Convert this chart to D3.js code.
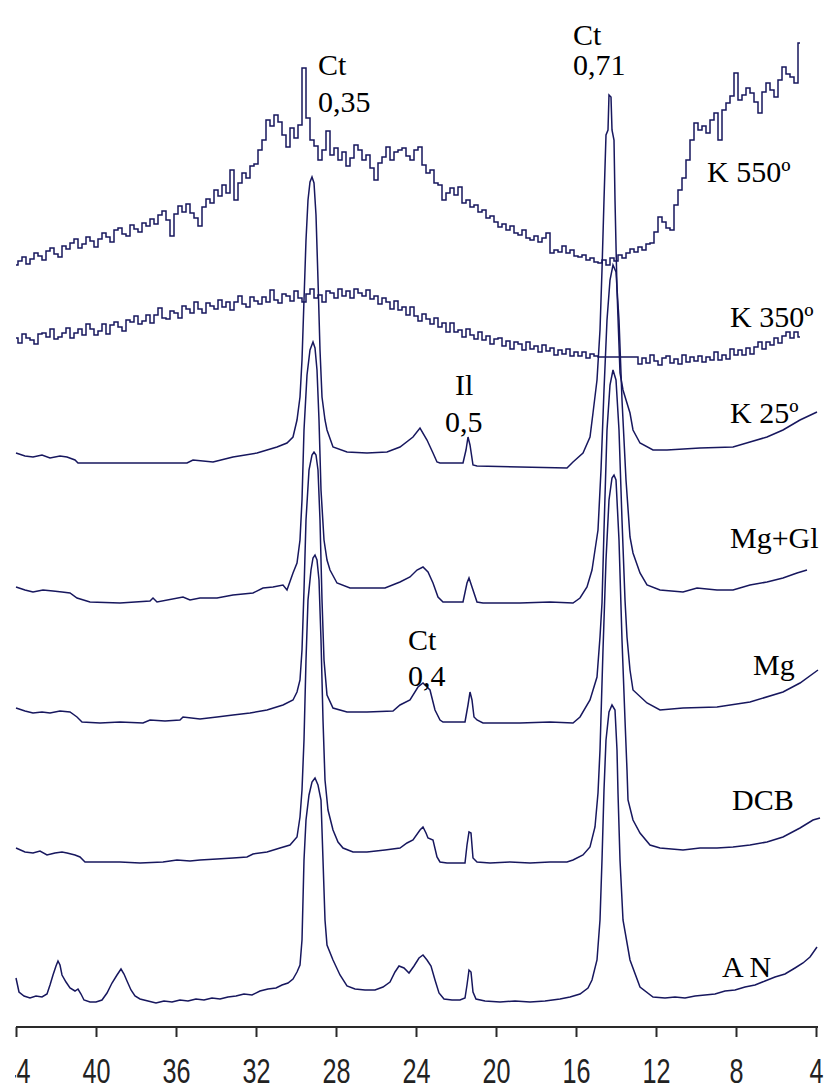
<!DOCTYPE html>
<html>
<head>
<meta charset="utf-8">
<script src="https://cdn.jsdelivr.net/npm/d3@7"></script>
<style>
  body { margin: 0; background: #fff; }
  svg { display: block; }
</style>
</head>
<body>
<svg id="chart" width="831" height="1089"></svg>
<script>
// X-ray diffraction patterns of the clay fraction (2θ, reversed axis),
// stacked with vertical offsets; intensities in arbitrary stacked units.

const twoThetaTicks = [44, 40, 36, 32, 28, 24, 20, 16, 12, 8, 4];

// Heated samples: recorded on a regular 2θ grid starting at 44° in 0.2° steps
const gridStart = 44;
const gridStep = 0.2;

const k550 = [
  762,766,770,763,768,774,771,767,776,779,
  773,770,781,778,784,788,779,783,790,786,
  780,788,794,790,785,797,799,793,791,802,
  798,795,804,801,808,803,812,816,807,791,
  813,821,815,823,814,809,801,820,828,824,
  837,831,842,834,857,827,844,854,849,861,
  863,877,887,907,901,912,905,892,880,899,
  889,902,959,909,887,881,867,877,896,872,
  879,867,875,861,869,882,877,867,872,859,
  847,864,870,880,867,875,877,879,871,867,
  877,880,862,854,857,844,842,827,834,839,
  832,840,824,827,820,822,815,817,809,811,
  805,800,803,797,801,794,792,797,789,787,
  791,785,789,794,774,777,775,781,774,777,
  771,770,772,767,769,765,764,767,762,769,
  766,772,769,774,778,775,780,777,783,784,
  795,810,805,799,797,822,837,849,867,887,
  904,897,901,894,907,914,887,917,924,931,
  954,927,932,939,934,925,914,935,944,937,
  930,947,960,953,950,944,984
];

const k350 = [
  689,684,693,689,687,683,693,694,690,698,
  688,690,694,699,689,694,698,692,703,698,
  692,696,703,693,702,705,700,696,707,705,
  711,703,706,712,704,712,719,709,708,716,
  714,709,721,718,714,725,718,714,724,721,
  718,727,720,725,717,725,731,723,720,730,
  726,723,730,725,737,727,724,733,731,726,
  736,729,725,733,738,729,732,725,736,734,
  729,738,731,736,729,738,734,731,737,728,
  731,723,729,725,718,726,717,720,712,720,
  711,706,713,708,703,709,700,704,695,704,
  695,697,690,698,692,688,695,687,691,683,
  688,689,681,686,678,685,683,677,685,678,
  681,675,682,676,679,672,677,673,678,671,
  675,671,675,669,673,671,670,670,670,670,
  670,670,670,670,670,670,663,669,664,672,
  666,662,669,671,664,668,663,672,665,670,
  666,671,665,670,667,675,667,672,668,678,
  672,677,672,679,673,680,685,678,685,682,
  689,684,691,695,689,695,690
];

// [2θ, intensity] pairs
const k25 = [
  [44.0,574],[43.55,571],[43.15,570],[42.7,572],[42.3,569],[41.8,571],[41.45,570],
  [41.05,567],[40.9,564],[38.8,564],[37.3,564],[35.45,564],[35.15,567],[34.15,565],
  [33.15,570],[31.95,574],[31.45,577],[30.95,580],[30.45,584],[30.15,590],[29.95,607],
  [29.8,630],[29.7,667],[29.6,727],[29.5,787],[29.4,827],[29.3,845],[29.2,850],
  [29.1,844],[29.0,812],[28.9,747],[28.8,677],[28.7,630],[28.55,607],[28.45,597],
  [28.15,580],[27.45,575],[26.45,574],[25.45,575],[24.8,580],[24.15,590],[23.8,599],
  [23.45,587],[23.15,574],[22.95,565],[22.8,564],[21.65,564],[21.5,577],[21.4,590],
  [21.3,582],[21.15,562],[20.95,561],[18.8,560],[16.45,559],[16.15,565],[15.65,574],
  [15.3,590],[15.15,614],[14.95,647],[14.8,697],[14.7,757],[14.6,827],[14.5,892],
  [14.4,897],[14.35,932],[14.25,930],[14.2,897],[14.1,887],[14.05,827],[13.95,737],
  [13.8,654],[13.65,637],[13.3,614],[13.15,597],[12.8,584],[12.15,577],[11.45,577],
  [9.8,579],[8.15,580],[7.3,585],[6.45,590],[5.65,597],[4.8,607],[3.95,615]
];

const mgGl = [
  [44.0,440],[43.55,437],[43.15,435],[42.65,437],[42.15,436],[41.7,435],[41.3,434],
  [40.95,429],[40.3,425],[38.8,424],[37.3,426],[37.15,429],[36.95,425],[35.65,430],
  [35.3,427],[34.8,429],[33.95,429],[33.15,432],[32.15,434],[31.65,439],[31.15,440],
  [30.65,442],[30.45,437],[30.15,454],[29.95,464],[29.8,487],[29.7,527],[29.6,597],
  [29.45,652],[29.3,677],[29.15,685],[29.05,679],[28.95,657],[28.85,607],[28.75,537],
  [28.6,487],[28.45,467],[28.3,457],[27.95,444],[27.3,439],[26.45,439],[25.55,439],
  [24.8,445],[24.3,450],[23.95,457],[23.65,460],[23.4,455],[23.15,444],[22.9,430],
  [22.65,425],[21.65,425],[21.45,444],[21.35,449],[21.2,440],[20.95,425],[20.65,424],
  [18.8,424],[17.3,425],[16.15,424],[15.8,429],[15.45,440],[15.2,457],[15.05,477],
  [14.9,497],[14.75,557],[14.6,637],[14.45,707],[14.3,747],[14.15,762],[14.0,755],
  [13.85,707],[13.7,627],[13.5,547],[13.3,490],[13.15,474],[12.8,454],[12.45,442],
  [11.8,437],[10.65,435],[9.95,439],[8.95,437],[8.15,437],[7.3,442],[6.45,445],
  [5.65,449],[4.95,454],[4.45,457]
];

const mg = [
  [44.0,319],[43.55,316],[43.15,314],[42.7,315],[42.3,314],[41.8,316],[41.3,315],
  [40.95,310],[40.7,305],[39.8,304],[38.8,305],[37.65,304],[37.3,307],[36.55,306],
  [35.8,307],[35.65,310],[34.8,308],[33.95,310],[33.15,312],[32.3,314],[31.45,317],
  [30.65,322],[30.15,327],[29.95,335],[29.8,347],[29.7,377],[29.6,437],[29.5,507],
  [29.35,557],[29.2,572],[29.1,575],[29.0,572],[28.9,557],[28.8,507],[28.7,427],
  [28.6,367],[28.45,332],[28.15,319],[27.45,315],[26.45,315],[25.15,316],[24.8,322],
  [24.3,327],[23.9,340],[23.65,344],[23.3,337],[23.05,317],[22.8,307],[22.65,305],
  [21.55,305],[21.4,322],[21.3,335],[21.2,327],[21.1,310],[20.95,307],[20.65,304],
  [18.8,304],[17.3,305],[16.15,304],[15.8,310],[15.3,327],[14.95,350],[14.8,390],
  [14.7,424],[14.6,497],[14.45,597],[14.3,642],[14.15,657],[14.0,647],[13.85,597],
  [13.7,507],[13.55,427],[13.45,390],[13.3,357],[13.15,337],[12.45,324],[11.8,317],
  [10.65,319],[8.95,320],[7.3,325],[5.65,335],[4.8,344],[3.9,357]
];

const dcb = [
  [44.0,179],[43.55,175],[43.15,174],[42.8,176],[42.45,172],[42.05,174],[41.7,175],
  [41.45,174],[41.05,172],[40.8,170],[40.55,165],[39.8,165],[38.8,165],[37.8,164],
  [36.65,165],[35.95,167],[35.3,166],[34.8,167],[33.95,168],[33.15,169],[32.45,170],
  [32.15,173],[31.45,175],[30.8,179],[30.3,182],[29.95,190],[29.8,210],[29.7,237],
  [29.6,287],[29.5,367],[29.4,427],[29.25,457],[29.15,469],[29.05,472],[28.95,467],
  [28.85,447],[28.75,387],[28.65,307],[28.55,247],[28.4,217],[28.15,197],[27.9,185],
  [27.65,179],[27.15,175],[26.45,175],[25.55,177],[24.8,179],[24.45,184],[24.15,187],
  [23.8,197],[23.65,200],[23.5,194],[23.4,189],[23.15,187],[22.95,170],[22.8,165],
  [22.45,164],[21.55,164],[21.45,182],[21.35,195],[21.25,194],[21.15,169],[20.95,165],
  [20.3,164],[19.3,165],[18.3,164],[17.3,165],[16.45,165],[16.15,167],[15.65,172],
  [15.3,180],[15.05,200],[14.9,234],[14.8,277],[14.65,377],[14.5,467],[14.35,527],
  [14.2,549],[14.1,552],[14.0,547],[13.85,487],[13.7,387],[13.55,307],[13.45,257],
  [13.4,227],[13.15,207],[12.8,194],[12.3,182],[11.8,179],[10.65,177],[9.8,179],
  [8.95,179],[8.15,180],[7.3,182],[6.45,185],[5.65,190],[4.8,199],[4.15,207],[3.8,209]
];

const an = [
  [44.0,49],[43.85,35],[43.6,31],[43.3,29],[43.0,31],[42.7,30],[42.45,33],[42.3,42],
  [42.15,52],[42.0,61],[41.9,66],[41.8,62],[41.7,52],[41.5,45],[41.3,39],[41.05,36],
  [40.9,38],[40.75,33],[40.6,27],[40.3,25],[40.0,25],[39.7,27],[39.45,34],[39.2,44],
  [38.95,52],[38.75,58],[38.6,53],[38.45,46],[38.25,37],[38.05,31],[37.8,28],[37.4,26],
  [37.0,24],[36.6,26],[36.2,25],[35.8,27],[35.4,26],[35.0,28],[34.6,27],[34.2,29],
  [33.8,28],[33.4,30],[33.0,31],[32.6,33],[32.2,32],[31.8,36],[31.4,38],[31.0,39],
  [30.7,42],[30.4,44],[30.15,48],[29.95,55],[29.8,62],[29.7,87],[29.6,167],[29.5,207],
  [29.35,232],[29.2,245],[29.05,249],[28.9,242],[28.75,227],[28.65,167],[28.55,107],
  [28.45,82],[28.15,67],[27.8,52],[27.45,41],[27.05,38],[26.55,37],[26.05,37],
  [25.65,40],[25.3,45],[25.05,55],[24.85,61],[24.6,59],[24.35,54],[24.1,61],[23.85,69],
  [23.65,72],[23.45,67],[23.25,61],[23.05,47],[22.85,34],[22.6,28],[22.2,27],[21.8,27],
  [21.55,29],[21.45,42],[21.35,57],[21.25,55],[21.15,35],[21.0,28],[20.55,26],[19.8,25],
  [19.05,26],[18.3,25],[17.55,26],[16.8,28],[16.3,30],[15.8,33],[15.4,39],[15.2,47],
  [14.95,67],[14.8,107],[14.7,167],[14.6,237],[14.5,287],[14.35,315],[14.2,322],
  [14.05,317],[13.95,277],[13.9,234],[13.8,167],[13.65,107],[13.3,67],[12.8,40],
  [12.15,30],[11.55,29],[11.05,30],[10.55,29],[10.05,31],[9.55,32],[9.05,33],[8.55,36],
  [8.05,37],[7.55,40],[7.05,42],[6.55,46],[6.05,50],[5.55,53],[5.05,59],[4.65,64],
  [4.3,70],[3.95,80]
];

const sampleNames = ["K 550º", "K 350º", "K 25º", "Mg+Gl", "Mg", "DCB", "A N"];
const peakNotes = [["Ct", "0,35"], ["Ct", "0,71"], ["Il", "0,5"], ["Ct", "0,4"]];

// ---- drawing ----
const width = 831, height = 1089;
const ink = "#17175e";

const x = d3.scaleLinear().domain([44, 4]).range([16, 816]);
const y = d3.scaleLinear().domain([0, 1000]).range([1027, 27]);

const svg = d3.select("#chart");
svg.append("rect").attr("width", width).attr("height", height).attr("fill", "#fff");

svg.append("defs").append("clipPath").attr("id", "frame")
  .append("rect").attr("x", 15).attr("y", 0).attr("width", width - 15).attr("height", height);

const g = svg.append("g").attr("clip-path", "url(#frame)");

const onGrid = values => values.map((v, i) => [gridStart - i * gridStep, v]);

const patterns = [
  { pts: onGrid(k550), curve: d3.curveStep },
  { pts: onGrid(k350), curve: d3.curveStep },
  { pts: k25, curve: d3.curveLinear },
  { pts: mgGl, curve: d3.curveLinear },
  { pts: mg, curve: d3.curveLinear },
  { pts: dcb, curve: d3.curveLinear },
  { pts: an, curve: d3.curveLinear }
];

patterns.forEach(p => {
  const line = d3.line().x(d => x(d[0])).y(d => y(d[1])).curve(p.curve);
  g.append("path")
    .attr("d", line(p.pts))
    .attr("fill", "none")
    .attr("stroke", ink)
    .attr("stroke-width", 1.5)
    .attr("stroke-linejoin", "miter");
});

// 2θ axis
const axis = d3.axisBottom(x)
  .tickValues(twoThetaTicks)
  .tickFormat(d3.format("d"))
  .tickSize(10)
  .tickSizeOuter(0);

const ax = g.append("g")
  .attr("transform", `translate(0,${y(0)})`)
  .call(axis);

ax.select(".domain").attr("stroke", "#2a2a2a").attr("stroke-width", 2.2)
  .attr("d", `M${x(44)},0H${x(4) + 2}`);
ax.selectAll(".tick line").attr("stroke", "#2a2a2a").attr("stroke-width", 2);
ax.selectAll(".tick text")
  .attr("y", null).attr("dy", null)
  .attr("transform", "translate(0,56) scale(0.72,1)")
  .attr("fill", "#222")
  .attr("font-family", "'Liberation Sans', Arial, sans-serif")
  .attr("font-size", 35);

// sample names beside each pattern
const serif = "'Liberation Serif', 'Times New Roman', serif";
const namePos = [[707, 182], [730, 327], [730, 423], [730, 548], [753, 675], [732, 810], [722, 977]];
g.selectAll("text.sample")
  .data(sampleNames)
  .join("text")
  .attr("class", "sample")
  .attr("x", (d, i) => namePos[i][0])
  .attr("y", (d, i) => namePos[i][1])
  .attr("font-family", serif)
  .attr("font-size", 30)
  .attr("fill", "#000")
  .text(d => d);

// mineral / d-spacing (nm) notes over the reflections
const notePos = [
  [[318, 75], [318, 112]],
  [[573, 45], [573, 75]],
  [[455, 395], [445, 432]],
  [[408, 650], [408, 686]]
];
peakNotes.forEach((lines, i) => {
  lines.forEach((t, j) => {
    g.append("text")
      .attr("x", notePos[i][j][0])
      .attr("y", notePos[i][j][1])
      .attr("font-family", serif)
      .attr("font-size", 30)
      .attr("fill", "#000")
      .text(t);
  });
});
</script>
</body>
</html>
